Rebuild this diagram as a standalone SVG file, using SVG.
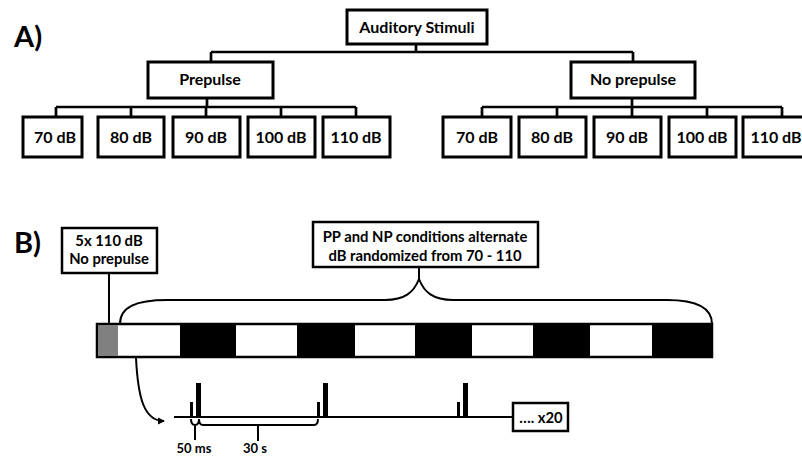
<svg xmlns="http://www.w3.org/2000/svg" width="802" height="458" viewBox="0 0 802 458">
<style>
.box{fill:#fff;stroke:#000;stroke-width:3}
.sbox{fill:#fff;stroke:#000;stroke-width:2.5}
.ln{fill:none;stroke:#000;stroke-width:2.7}
.thin{fill:none;stroke:#000;stroke-width:2}
text{font-family:Lato,"Open Sans","Liberation Sans",sans-serif;font-weight:bold;fill:#000;text-anchor:middle}
.t{font-size:16px}
.s{font-size:14.8px}
.xs{font-size:13px}
.lab{font-size:29px;text-anchor:start}
.blk{fill:#000}
</style>
<defs>
<marker id="ah" markerWidth="8" markerHeight="8" refX="6" refY="4" orient="auto" markerUnits="userSpaceOnUse">
<path d="M0,0.5 L7,4 L0,7.5 Z" fill="#000"/>
</marker>
</defs>

<text class="lab" x="14" y="47">A)</text>
<text class="lab" x="14" y="253">B)</text>

<g id="connectors">
<path class="ln" d="M416,44 V52 M211,52 H633 M211,52 V62 M633,52 V62"/>
<path class="ln" d="M207,98 V107 M56,107 H356 M56,107 V117 M131,107 V117 M206,107 V117 M281,107 V117 M356,107 V117"/>
<path class="ln" d="M632,98 V107 M482,107 H782 M482,107 V117 M557,107 V117 M632,107 V117 M707,107 V117 M782,107 V117"/>
<path class="thin" d="M109,273 V324"/>
<path class="thin" d="M419,267 V279"/>
<path class="thin" d="M120,324 C120,307 136,300 167,300 L385,300 C405,300 414,292 419,279 C424,292 433,300 453,300 L667,300 C697,300 712,308 712,324"/>
<path class="thin" d="M136,358 C138,398 144,421 164,421" marker-end="url(#ah)"/>
</g>

<g id="auditory-stimuli"><rect class="box" x="347" y="10" width="140" height="34"/><text class="t" x="417" y="33">Auditory Stimuli</text></g>
<g id="prepulse"><rect class="box" x="148" y="62" width="125" height="36"/><text class="t" x="210" y="85">Prepulse</text></g>
<g id="no-prepulse"><rect class="box" x="571" y="62" width="124" height="36"/><text class="t" x="633" y="85">No prepulse</text></g>

<g id="pp-70"><rect class="box" x="23" y="117" width="59" height="40"/><text class="t" x="55" y="143">70 dB</text></g>
<g id="pp-80"><rect class="box" x="98" y="117" width="66" height="40"/><text class="t" x="131" y="143">80 dB</text></g>
<g id="pp-90"><rect class="box" x="173" y="117" width="67" height="40"/><text class="t" x="206" y="143">90 dB</text></g>
<g id="pp-100"><rect class="box" x="248" y="117" width="67" height="40"/><text class="t" x="281" y="143">100 dB</text></g>
<g id="pp-110"><rect class="box" x="323" y="117" width="67" height="40"/><text class="t" x="356" y="143">110 dB</text></g>

<g id="np-70"><rect class="box" x="443" y="117" width="68" height="40"/><text class="t" x="477" y="143">70 dB</text></g>
<g id="np-80"><rect class="box" x="519" y="117" width="67" height="40"/><text class="t" x="552" y="143">80 dB</text></g>
<g id="np-90"><rect class="box" x="594" y="117" width="67" height="40"/><text class="t" x="627" y="143">90 dB</text></g>
<g id="np-100"><rect class="box" x="669" y="117" width="67" height="40"/><text class="t" x="702" y="143">100 dB</text></g>
<g id="np-110"><rect class="box" x="743" y="117" width="70" height="40"/><text class="t" x="776" y="143">110 dB</text></g>

<g id="habituation-box"><rect class="sbox" x="62" y="228" width="95" height="45"/><text class="s" x="109" y="246">5x 110 dB</text><text class="s" x="109" y="264">No prepulse</text></g>
<g id="conditions-box"><rect class="sbox" x="313" y="222" width="225" height="45"/><text class="s" x="425" y="242">PP and NP conditions alternate</text><text class="s" x="425" y="261">dB randomized from 70 - 110</text></g>

<g id="trial-bar">
<rect x="97" y="324" width="615" height="33" fill="#fff" stroke="#000" stroke-width="2.5"/>
<rect x="98" y="325" width="20" height="31" fill="#808080"/>
<rect class="blk" x="180" y="325" width="56" height="31"/>
<rect class="blk" x="297" y="325" width="58" height="31"/>
<rect class="blk" x="415" y="325" width="57" height="31"/>
<rect class="blk" x="533" y="325" width="57" height="31"/>
<rect class="blk" x="652" y="325" width="60" height="31"/>
</g>

<g id="timeline">
<path class="thin" d="M174,417 H513"/>
<rect class="blk" x="190" y="402" width="3" height="15"/>
<rect class="blk" x="196" y="383" width="5" height="34"/>
<rect class="blk" x="317" y="402" width="3" height="15"/>
<rect class="blk" x="323" y="383" width="5" height="34"/>
<rect class="blk" x="457" y="402" width="3" height="15"/>
<rect class="blk" x="463" y="383" width="5" height="34"/>
<path class="thin" d="M191,419 Q191,425 195,425 Q199,425 199,419 M195,425 V440"/>
<path class="thin" d="M199,419 Q199,425 203,425 L314,425 Q318,425 318,419 M258,425 V441"/>
<text class="xs" x="194" y="453">50 ms</text>
<text class="xs" x="255" y="453">30 s</text>
</g>

<g id="repeat-box"><rect class="sbox" x="513" y="403" width="55" height="28"/><text class="s" x="541" y="423">…. x20</text></g>
</svg>
